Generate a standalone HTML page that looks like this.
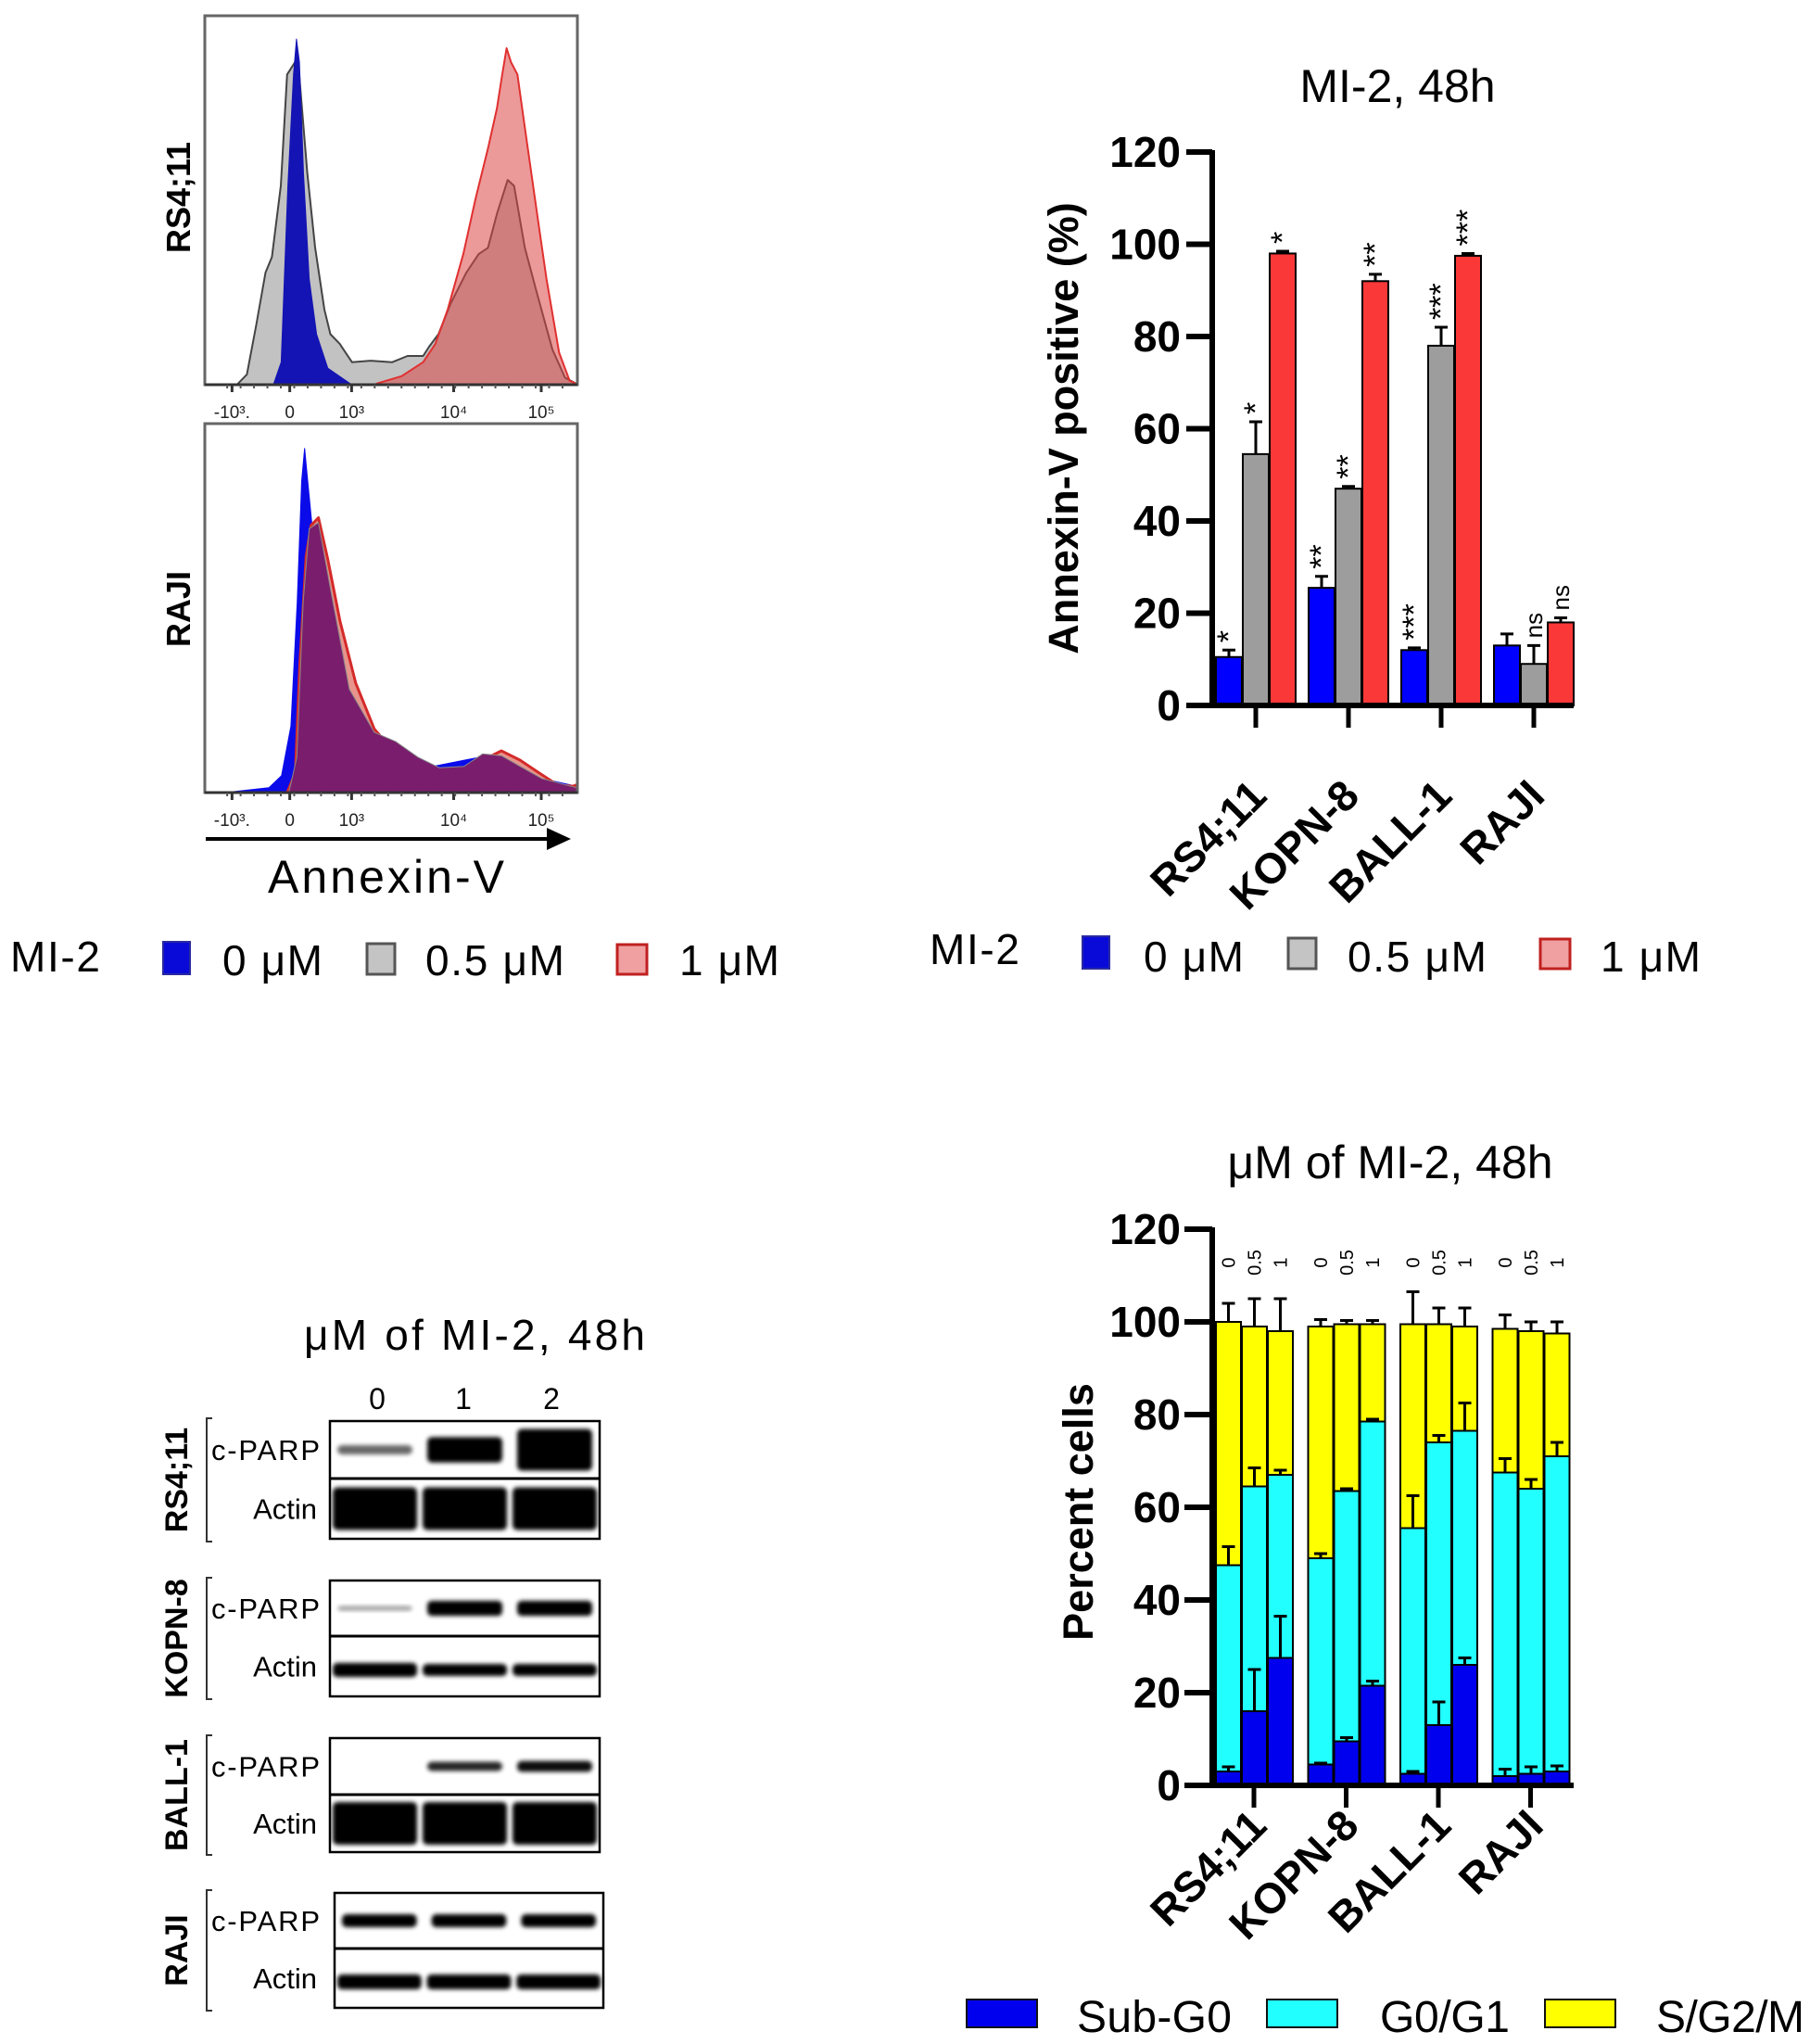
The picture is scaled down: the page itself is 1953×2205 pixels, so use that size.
<!DOCTYPE html>
<html><head><meta charset="utf-8"><style>
html,body{margin:0;padding:0;background:#fff;}
svg{display:block;font-family:"Liberation Sans",Arial,sans-serif;}
</style></head><body>
<svg id="fig" width="1953" height="2205" viewBox="0 0 1953 2205" xmlns="http://www.w3.org/2000/svg">
<defs>
<filter id="blur2" x="-10%" y="-50%" width="120%" height="200%"><feGaussianBlur stdDeviation="2.5"/></filter>
</defs>
<g id="flow"></g>
<g>
<line x1="222" y1="905" x2="594" y2="905" stroke="#000" stroke-width="4"/>
<polygon points="590,893 616,905 590,917" fill="#000"/>
<text x="289" y="963" font-size="50" textLength="255">Annexin-V</text>
</g>
<g>
<text x="11" y="1048" font-size="46" textLength="97">MI-2</text>
<rect x="176" y="1016" width="29" height="35" fill="#0a0ad8" stroke="#2a2aa0" stroke-width="2"/>
<text x="240" y="1052" font-size="46" textLength="108">0 μM</text>
<rect x="396" y="1018" width="30" height="33" fill="#c4c4c4" stroke="#555" stroke-width="3"/>
<text x="459" y="1052" font-size="46" textLength="150">0.5 μM</text>
<rect x="666" y="1019" width="32" height="32" fill="#f0a0a0" stroke="#c02020" stroke-width="3"/>
<text x="733" y="1052" font-size="46" textLength="108">1 μM</text>
</g>
<g>
<text x="1003" y="1040" font-size="46" textLength="97">MI-2</text>
<rect x="1168" y="1010" width="29" height="35" fill="#0a0ad8" stroke="#2a2aa0" stroke-width="2"/>
<text x="1234" y="1048" font-size="46" textLength="108">0 μM</text>
<rect x="1390" y="1012" width="30" height="33" fill="#c4c4c4" stroke="#555" stroke-width="3"/>
<text x="1454" y="1048" font-size="46" textLength="150">0.5 μM</text>
<rect x="1662" y="1013" width="32" height="32" fill="#f0a0a0" stroke="#c02020" stroke-width="3"/>
<text x="1727" y="1048" font-size="46" textLength="108">1 μM</text>
</g>
<g id="c1"></g>
<g id="c2"></g>
<g>
<rect x="1043" y="2157" width="76" height="30" fill="#0000ee" stroke="#111" stroke-width="2"/>
<text x="1162" y="2192" font-size="48" textLength="167">Sub-G0</text>
<rect x="1367" y="2157" width="76" height="30" fill="#22ffff" stroke="#111" stroke-width="2"/>
<text x="1489" y="2192" font-size="48" textLength="140">G0/G1</text>
<rect x="1667" y="2157" width="76" height="30" fill="#ffff00" stroke="#111" stroke-width="2"/>
<text x="1787" y="2192" font-size="48" textLength="160">S/G2/M</text>
</g>
<g id="blots">
<text x="328" y="1456" font-size="46" textLength="368">μM of MI-2, 48h</text>
<text x="407" y="1520" font-size="32" text-anchor="middle">0</text>
<text x="500" y="1520" font-size="32" text-anchor="middle">1</text>
<text x="595" y="1520" font-size="32" text-anchor="middle">2</text>
</g>
</svg>
<script>
const NS='http://www.w3.org/2000/svg';
function mk(parent,tag,attrs,txt){const e=document.createElementNS(NS,tag);for(const k in attrs)e.setAttribute(k,attrs[k]);if(txt!==undefined)e.textContent=txt;parent.appendChild(e);return e;}

/* ---------- Annexin-V bar chart data ---------- */
const c1Categories=['RS4;11','KOPN-8','BALL-1','RAJI'];
const c1Dose0=[10.5,25.5,12,13];
const c1Dose05=[54.5,47,78,9];
const c1Dose1=[98,92,97.5,18];
const c1Err0=[1.5,2.5,0.5,2.5];
const c1Err05=[7,0.5,4,4];
const c1Err1=[0.5,1.5,0.5,1];
const c1Sig0=['*','**','***',''];
const c1Sig05=['*','**','***','ns'];
const c1Sig1=['*','**','***','ns'];
const c1Ticks=[0,20,40,60,80,100,120];

/* ---------- Cell cycle chart data ---------- */
const c2Categories=['RS4;11','KOPN-8','BALL-1','RAJI'];
const c2Doses=['0','0.5','1'];
const c2SubG0=[[3,16,27.5],[4.5,9.5,21.5],[2.5,13,26],[2,2.5,3]];
const c2G0G1Top=[[47.5,64.5,67],[49,63.5,78.5],[55.5,74,76.5],[67.5,64,71]];
const c2Total=[[100,99,98],[99,99.5,99.5],[99.5,99.5,99],[98.5,98,97.5]];
const c2ErrSub=[[1,9,9],[0.3,0.8,1],[0.5,5,1.5],[1.5,1.5,1.2]];
const c2ErrG1=[[4,4,1],[1,0.5,0.5],[7,1.5,6],[3,2,3]];
const c2ErrTot=[[4,6,7],[1.5,0.8,0.8],[7,3.5,4],[3,2,2.5]];
const c2Ticks=[0,20,40,60,80,100,120];

/* ---------- Flow histogram curves ---------- */
const rsGray=[[0.089,0.003],[0.113,0.028],[0.138,0.162],[0.163,0.304],[0.180,0.346],[0.204,0.539],[0.221,0.841],[0.242,0.874],[0.254,0.833],[0.275,0.573],[0.296,0.372],[0.321,0.204],[0.337,0.137],[0.362,0.111],[0.395,0.061],[0.445,0.065],[0.503,0.061],[0.544,0.078],[0.586,0.078],[0.602,0.103],[0.627,0.137],[0.660,0.220],[0.702,0.304],[0.735,0.354],[0.760,0.371],[0.784,0.463],[0.813,0.555],[0.830,0.539],[0.859,0.371],[0.892,0.246],[0.933,0.095],[0.967,0.019],[0.996,0.003]];
const rsBlue=[[0.185,0.003],[0.205,0.061],[0.223,0.539],[0.238,0.841],[0.246,0.937],[0.254,0.874],[0.265,0.572],[0.280,0.288],[0.300,0.137],[0.330,0.045],[0.390,0.003]];
const rsRed=[[0.461,0.003],[0.528,0.023],[0.586,0.061],[0.619,0.111],[0.652,0.204],[0.694,0.355],[0.727,0.506],[0.760,0.640],[0.784,0.749],[0.797,0.833],[0.810,0.912],[0.822,0.874],[0.839,0.841],[0.860,0.690],[0.893,0.455],[0.917,0.288],[0.951,0.087],[0.979,0.011],[0.996,0.003]];
const rjBlue=[[0.071,0.002],[0.172,0.013],[0.206,0.046],[0.231,0.180],[0.248,0.515],[0.260,0.845],[0.268,0.933],[0.276,0.845],[0.290,0.700],[0.322,0.515],[0.363,0.305],[0.405,0.222],[0.488,0.130],[0.613,0.071],[0.738,0.096],[0.805,0.088],[0.905,0.038],[0.998,0.017]];
const rjRed=[[0.222,0.002],[0.243,0.054],[0.255,0.347],[0.272,0.640],[0.285,0.724],[0.305,0.745],[0.330,0.632],[0.363,0.464],[0.405,0.297],[0.455,0.172],[0.513,0.105],[0.572,0.071],[0.630,0.054],[0.696,0.063],[0.746,0.088],[0.796,0.113],[0.846,0.088],[0.896,0.054],[0.946,0.021],[0.988,0.017],[0.998,0.021]];
const rjPurple=[[0.226,0.002],[0.247,0.096],[0.264,0.515],[0.280,0.715],[0.305,0.732],[0.338,0.548],[0.388,0.280],[0.455,0.163],[0.513,0.138],[0.572,0.096],[0.630,0.067],[0.696,0.071],[0.746,0.105],[0.796,0.100],[0.846,0.071],[0.905,0.038],[0.998,0.013]];
const flowTickPos=[0.073,0.228,0.394,0.668,0.903];
const flowTickLbl=['-10³.','0','10³','10⁴','10⁵'];

/* ---------- Flow panels ---------- */
const flow=document.getElementById('flow');
function panel(name,x0,y0,w,h,label,labelCy){
  const g=mk(flow,'g',{});
  
  
  const sx=v=>x0+v*w, sy=v=>y0+h-v*h;
  return {g,sx,sy,x0,y0,w,h,label,labelCy};
}
function area(p,pts,fill,stroke,sw,name){
  let d='M'+p.sx(pts[0][0])+','+p.sy(0);
  pts.forEach(q=>{d+=' L'+p.sx(q[0]).toFixed(1)+','+p.sy(q[1]).toFixed(1);});
  d+=' L'+p.sx(pts[pts.length-1][0])+','+p.sy(0)+' Z';
  const e=mk(p.g,'path',{d:d,fill:fill,stroke:stroke,'stroke-width':sw,'stroke-linejoin':'round'});
  
  
}
function frame(p){
  const r=mk(p.g,'rect',{x:p.x0,y:p.y0,width:p.w,height:p.h,fill:'none',stroke:'#666',"stroke-width":3});
  
  
  mk(p.g,'line',{x1:p.x0,y1:p.y0+p.h,x2:p.x0+p.w,y2:p.y0+p.h,stroke:'#333','stroke-width':3});
  flowTickPos.forEach((t,i)=>{
    mk(p.g,'line',{x1:p.sx(t),y1:p.y0+p.h,x2:p.sx(t),y2:p.y0+p.h+8,stroke:'#333','stroke-width':3});
    const tx=mk(p.g,'text',{x:p.sx(t),y:p.y0+p.h+36,'font-size':19,'text-anchor':'middle',fill:'#222'},flowTickLbl[i]);
    
    
  });
  for(let k=0;k<26;k++){const t=0.06+k*0.036;mk(p.g,'line',{x1:p.sx(t),y1:p.y0+p.h,x2:p.sx(t),y2:p.y0+p.h+4,stroke:'#555','stroke-width':2});}
  const lb=mk(p.g,'text',{x:0,y:0,'font-size':36,'font-weight':'bold','text-anchor':'middle',transform:'translate(205,'+p.labelCy+') rotate(-90)'},p.label);
  
  
}
const p1=panel('flow-panel-rs411',221,17,402,398,'RS4;11',213);
area(p1,rsGray,'#c2c2c2','#444',2,'hist-0.5uM');
area(p1,rsBlue,'#1414b4','#1414b4',1,'hist-0uM');
area(p1,rsRed,'rgba(220,70,70,0.55)','#e03030',2,'hist-1uM');
frame(p1);
const p2=panel('flow-panel-raji',221,457,402,398,'RAJI',657);
area(p2,rjBlue,'#0b0bea','#0b0bea',1,'hist-0uM');
area(p2,rjRed,'#e8948c','#d42a2a',3,'hist-1uM');
area(p2,rjPurple,'#7a1d6c','#888',1,'hist-0.5uM');
frame(p2);

/* ---------- Chart 1 ---------- */
(function(){
  const g=document.getElementById('c1');
  const X0=1308,Y0=761,Y120=164,xEnd=1698;
  const y=v=>Y0-(v/120)*(Y0-Y120);
  const gx=i=>1355+i*100;
  const bw=28;
  const t=mk(g,'text',{x:1508,y:110,'font-size':50,'text-anchor':'middle'},'MI-2, 48h');
  
  const yt=mk(g,'text',{x:0,y:0,'font-size':45,'font-weight':'bold','text-anchor':'middle',transform:'translate(1163,462) rotate(-90)'},'Annexin-V positive (%)');
  
  const series=[[c1Dose0,c1Err0,c1Sig0,'#0000ff'],[c1Dose05,c1Err05,c1Sig05,'#9d9d9d'],[c1Dose1,c1Err1,c1Sig1,'#fb3838']];
  c1Categories.forEach((c,i)=>{
    series.forEach((s,j)=>{
      const v=s[0][i],e=s[1][i];
      const bx=gx(i)-43+j*29;
      const r=mk(g,'rect',{x:bx,y:y(v),width:bw,height:Y0-y(v),fill:s[3],stroke:'#000','stroke-width':2});
      
      const cx=bx+bw/2;
      const eb=mk(g,'path',{d:'M'+cx+','+y(v)+' V'+y(v+e)+' M'+(cx-7)+','+y(v+e)+' H'+(cx+7),stroke:'#000','stroke-width':3,fill:'none'});
      
      if(s[2][i]){
        const isNs=s[2][i]==='ns';
        const st=mk(g,'text',{x:0,y:0,'font-size':isNs?26:34,'text-anchor':'start',transform:'translate('+(cx+(isNs?9:11))+','+(y(v+e)-8)+') rotate(-90)'},s[2][i]);
        
      }
    });
    mk(g,'line',{x1:gx(i),y1:Y0,x2:gx(i),y2:Y0+24,stroke:'#000','stroke-width':5});
    const lb=mk(g,'text',{x:0,y:0,'font-size':46,'font-weight':'bold','text-anchor':'end',transform:'translate('+(gx(i)+14)+','+(Y0+100)+') rotate(-45)'},c);
    
  });
  const ax=mk(g,'path',{d:'M'+X0+','+(Y120-2)+' V'+Y0+' H'+xEnd,stroke:'#000','stroke-width':6,fill:'none'});
  
  c1Ticks.forEach(v=>{
    mk(g,'line',{x1:X0-28,y1:y(v),x2:X0,y2:y(v),stroke:'#000','stroke-width':6});
    const tl=mk(g,'text',{x:1274,y:y(v)+16,'font-size':46,'font-weight':'bold','text-anchor':'end'},String(v));
    
  });
})();

/* ---------- Chart 2 ---------- */
(function(){
  const g=document.getElementById('c2');
  const X0=1308,Y0=1926,Y120=1326,xEnd=1698;
  const y=v=>Y0-(v/120)*(Y0-Y120);
  const gx=i=>1353+i*99.5;
  const bw=27;
  const t=mk(g,'text',{x:1500,y:1271,'font-size':50,'text-anchor':'middle'},'μM of MI-2, 48h');
  
  const yt=mk(g,'text',{x:0,y:0,'font-size':45,'font-weight':'bold','text-anchor':'middle',transform:'translate(1179,1631) rotate(-90)'},'Percent cells');
  
  function err(cx,v,e){const p=mk(g,'path',{d:'M'+cx+','+y(v)+' V'+y(v+e)+' M'+(cx-7)+','+y(v+e)+' H'+(cx+7),stroke:'#000','stroke-width':3,fill:'none'});
    }
  c2Categories.forEach((c,i)=>{
    c2Doses.forEach((d,j)=>{
      const bx=gx(i)-41+j*28, cx=bx+bw/2;
      const sub=c2SubG0[i][j],top=c2G0G1Top[i][j],tot=c2Total[i][j];
      const r3=mk(g,'rect',{x:bx,y:y(tot),width:bw,height:y(top)-y(tot),fill:'#ffff00',stroke:'#000','stroke-width':2});
      
      const r2=mk(g,'rect',{x:bx,y:y(top),width:bw,height:y(sub)-y(top),fill:'#22ffff',stroke:'#000','stroke-width':2});
      
      const r1=mk(g,'rect',{x:bx,y:y(sub),width:bw,height:Y0-y(sub),fill:'#0000ee',stroke:'#000','stroke-width':2});
      
      err(cx,sub,c2ErrSub[i][j]);err(cx,top,c2ErrG1[i][j]);err(cx,tot,c2ErrTot[i][j]);
      const dl=mk(g,'text',{x:0,y:0,'font-size':20,'text-anchor':'middle',transform:'translate('+(cx+7)+',1362) rotate(-90)'},d);
      
    });
    mk(g,'line',{x1:gx(i),y1:Y0,x2:gx(i),y2:Y0+24,stroke:'#000','stroke-width':5});
    const lb=mk(g,'text',{x:0,y:0,'font-size':46,'font-weight':'bold','text-anchor':'end',transform:'translate('+(gx(i)+16)+','+(Y0+46)+') rotate(-45)'},c);
    
  });
  const ax=mk(g,'path',{d:'M'+X0+','+(Y120-2)+' V'+Y0+' H'+xEnd,stroke:'#000','stroke-width':6,fill:'none'});
  
  c2Ticks.forEach(v=>{
    mk(g,'line',{x1:X0-30,y1:y(v),x2:X0,y2:y(v),stroke:'#000','stroke-width':6});
    const tl=mk(g,'text',{x:1274,y:y(v)+16,'font-size':46,'font-weight':'bold','text-anchor':'end'},String(v));
    
  });
})();

/* ---------- Western blots ---------- */
const blotLines=['RS4;11','KOPN-8','BALL-1','RAJI'];
const blotParp=[[0.35,0.75,1.0],[0.12,0.9,0.9],[0.0,0.6,0.7],[0.8,0.8,0.8]];
const blotActin=[[1.0,1.0,1.0],[0.85,0.7,0.7],[1.0,1.0,1.0],[0.9,0.9,0.9]];
(function(){
  const g=document.getElementById('blots');
  const boxes=[[356,647,1533,1595,1660],[356,647,1705,1765,1830],[356,647,1875,1936,1998],[361,651,2042,2102,2166]];
  boxes.forEach((b,i)=>{
    const [x1,x2,t,m,bt]=b;
    const gg=mk(g,'g',{});
    
    const lw=(x2-x1)/3;
    const thickActin=(i===0||i===2);
    for(let k=0;k<3;k++){
      const pa=blotParp[i][k], ac=blotActin[i][k];
      if(pa>0){
        const bh=5+pa*pa*(i===0?40:14);
        const band=mk(gg,'rect',{x:x1+k*lw+8,y:(t+m)/2-bh/2,width:lw-16,height:bh,rx:5,fill:'#000',opacity:Math.min(1,0.25+pa),filter:'url(#blur2)'});
        
      }
      const ah=thickActin?46:(8+ac*ac*10);
      const ab=mk(gg,'rect',{x:x1+k*lw+3,y:(m+bt)/2-ah/2+(thickActin?0:4),width:lw-6,height:ah,rx:5,fill:'#000',opacity:Math.min(1,0.3+ac),filter:'url(#blur2)'});
      
    }
    mk(gg,'rect',{x:x1,y:t,width:x2-x1,height:bt-t,fill:'none',stroke:'#000','stroke-width':2.5});
    mk(gg,'line',{x1:x1,y1:m,x2:x2,y2:m,stroke:'#000','stroke-width':3});
    const l1=mk(gg,'text',{x:228,y:(t+m)/2+11,'font-size':31,textLength:117},'c-PARP');
    
    const l2=mk(gg,'text',{x:342,y:(m+bt)/2+11,'font-size':31,'text-anchor':'end'},'Actin');
    
    mk(gg,'path',{d:'M229,'+(t-3)+' H223 V'+(bt+3)+' H229',stroke:'#333','stroke-width':2,fill:'none'});
    const rl=mk(gg,'text',{x:0,y:0,'font-size':34,'font-weight':'bold','text-anchor':'middle',transform:'translate(202,'+((t+bt)/2)+') rotate(-90)'},blotLines[i]);
    
  });
})();
</script>
</body></html>
